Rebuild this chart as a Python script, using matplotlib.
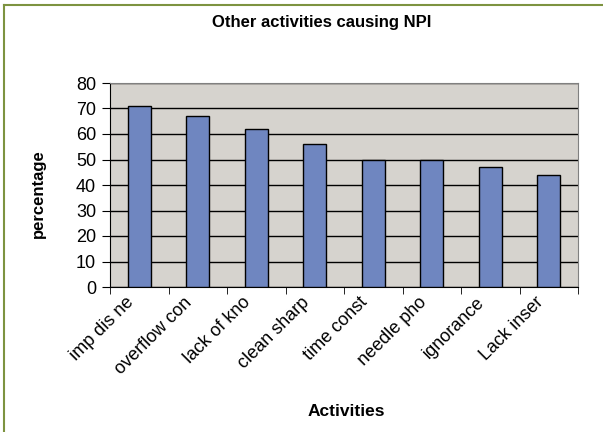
from matplotlib import pyplot as plt
from matplotlib.lines import Line2D
from matplotlib.transforms import ScaledTranslation
import numpy as np

plt.rcParams['font.family'] = ['Liberation Sans', 'DejaVu Sans']

activities: list[str] = ["imp dis ne", "overflow con", "lack of kno", "clean sharp",
                         "time const", "needle pho", "ignorance", "Lack inser"]
percentage: list[float] = [71, 67, 62, 56, 50, 50, 47, 44]

fig = plt.figure(figsize=(6.03, 4.32), dpi=100)
ax = fig.add_axes([110 / 603, 1 - 287 / 432, 468 / 603, 204 / 432])

x_positions: np.ndarray = np.arange(len(activities))
ax.bar(x_positions, percentage, width=0.4, color="#6F86C0", edgecolor="black", linewidth=1, zorder=3)

ax.set_facecolor("#D6D3CE")
ax.set_xlim(-0.5, len(activities) - 0.5)
ax.set_ylim(0, 80)
ax.set_yticks(range(0, 81, 10))
ax.yaxis.grid(True, color="black", linewidth=1, zorder=1)

# Excel style: ticks between categories, labels under the bars
ax.set_xticks(x_positions)
ax.set_xticklabels(activities, rotation=45, ha="right", va="top", rotation_mode="anchor", fontsize=13)
ax.set_xticks(np.arange(-0.5, len(activities)), minor=True)
ax.tick_params(axis="x", which="major", length=0, pad=5)
ax.tick_params(axis="x", which="minor", length=5, direction="out", color="black")
ax.tick_params(axis="y", length=6, direction="out", labelsize=13, pad=4)
shift = ScaledTranslation(-14 / 100, 0, fig.dpi_scale_trans)
for label in ax.get_xticklabels():
    label.set_transform(label.get_transform() + shift)

for side in ["top", "right"]:
    ax.spines[side].set_color("#808080")
for side in ["left", "bottom"]:
    ax.spines[side].set_color("black")

fig.text(322 / 603, 1 - 23 / 432, "Other activities causing NPI", ha="center", va="center",
         fontsize=12, fontweight="bold")
fig.text(38 / 603, 1 - 194 / 432, "percentage", ha="center", va="center", rotation=90,
         fontsize=12, fontweight="bold")
fig.text(346 / 603, 1 - 411 / 432, "Activities", ha="center", va="center",
         fontsize=12.5, fontweight="bold")

# olive border on the top and left edges
border_color = "#7D9340"
fig.add_artist(Line2D([4 / 603, 1], [1 - 5 / 432, 1 - 5 / 432], color=border_color, linewidth=1.5,
                      transform=fig.transFigure))
fig.add_artist(Line2D([4 / 603, 4 / 603], [0, 1 - 5 / 432], color=border_color, linewidth=1.5,
                      transform=fig.transFigure))

plt.savefig("out.png", dpi=100)
